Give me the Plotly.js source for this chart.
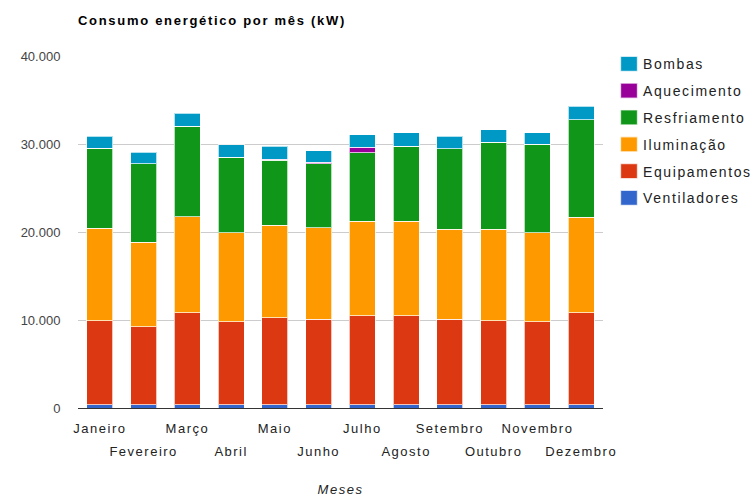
<!DOCTYPE html>
<html>
<head>
<meta charset="utf-8">
<script src="https://cdn.plot.ly/plotly-3.0.1.min.js"></script>
<style>
  html, body { margin: 0; padding: 0; background: #fff; }
  #chart { width: 752px; height: 497px; }
  #chart .xtick text, #chart .x2tick text, #chart .xtitle { letter-spacing: 1.5px; }
  #chart .legendtext { letter-spacing: 1.6px; }
  #chart .gtitle { letter-spacing: 1.7px; }
  #chart .legend .scrollbox, #chart .legend { clip-path: none !important; }
  #chart .legend .legendpoints path { transform: translate(26px, 0px) scale(1.42, 1.25); }
</style>
</head>
<body>
<div id="chart"></div>
<script>
const months = ["Janeiro", "Fevereiro", "Março", "Abril", "Maio", "Junho",
                "Julho", "Agosto", "Setembro", "Outubro", "Novembro", "Dezembro"];
const ventiladores = [350, 350, 350, 350, 350, 350, 350, 350, 350, 350, 350, 350];
const equipamentos = [9560, 8910, 10500, 9480, 9900, 9750, 10130, 10160, 9750, 9590, 9480, 10500];
const iluminacao   = [10500, 9590, 10870, 10080, 10530, 10370, 10760, 10720, 10230, 10390, 10080, 10800];
const resfriamento = [9130, 8910, 10310, 8610, 7360, 7290, 7780, 8530, 9140, 9890, 10050, 11130];
const aquecimento  = [0, 0, 0, 0, 150, 150, 630, 0, 0, 0, 0, 0];
const bombas       = [1360, 1310, 1470, 1400, 1430, 1350, 1400, 1520, 1390, 1400, 1330, 1510];

const seriesNames  = ["Ventiladores", "Equipamentos", "Iluminação", "Resfriamento", "Aquecimento", "Bombas"];
const seriesValues = [ventiladores, equipamentos, iluminacao, resfriamento, aquecimento, bombas];
const seriesColors = ["#3366cc", "#dc3912", "#ff9900", "#109618", "#990099", "#0099c6"];

const FONT = "Arial, 'Liberation Sans', sans-serif";

const traces = seriesNames.map((name, i) => ({
  type: "bar",
  name: name,
  x: months,
  y: seriesValues[i],
  legendgroup: name,
  legendrank: seriesNames.length - i,
  marker: { color: seriesColors[i], line: { color: "rgba(255,255,255,0.7)", width: 1 } },
  hoverinfo: "x+y+name"
}));

const idx = months.map((m, i) => i);
const oddVals = idx.filter(i => i % 2 === 0);
const evenVals = idx.filter(i => i % 2 === 1);

// invisible helper trace so the second (staggered) label axis is drawn
traces.push({
  type: "scatter",
  mode: "none",
  x: idx,
  y: idx.map(() => 0),
  xaxis: "x2",
  yaxis: "y",
  showlegend: false,
  hoverinfo: "skip"
});

const layout = {
  width: 752,
  height: 497,
  margin: { l: 78, r: 149, t: 56, b: 88.5 },
  paper_bgcolor: "#ffffff",
  plot_bgcolor: "#ffffff",
  separators: ",.",
  font: { family: FONT, size: 13, color: "#222222" },
  barmode: "stack",
  bargap: 0.41,
  title: {
    text: "<b>Consumo energético por mês (kW)</b>",
    font: { family: FONT, size: 13, color: "#000000" },
    x: 78 / 752, xref: "container", xanchor: "left",
    y: 1 - 20 / 497, yref: "container", yanchor: "middle"
  },
  xaxis: {
    type: "category",
    tickmode: "array",
    tickvals: oddVals.map(i => months[i]),
    ticktext: oddVals.map(i => months[i]),
    ticks: "outside",
    ticklen: 8,
    tickcolor: "rgba(0,0,0,0)",
    tickfont: { family: FONT, size: 13, color: "#222222" },
    showgrid: false,
    showline: false,
    zeroline: false,
    title: { text: "<i>Meses</i>", font: { family: FONT, size: 13, color: "#222222" }, standoff: 53 }
  },
  xaxis2: {
    type: "linear",
    overlaying: "x",
    anchor: "y",
    side: "bottom",
    range: [-0.5, 11.5],
    tickmode: "array",
    tickvals: evenVals,
    ticktext: evenVals.map(i => months[i]),
    ticks: "outside",
    ticklen: 31,
    tickcolor: "rgba(0,0,0,0)",
    tickfont: { family: FONT, size: 13, color: "#222222" },
    showgrid: false,
    showline: false,
    zeroline: false
  },
  yaxis: {
    range: [0, 40000],
    tickmode: "array",
    tickvals: [0, 10000, 20000, 30000, 40000],
    tickformat: ",.0f",
    ticks: "outside",
    ticklen: 14,
    tickcolor: "rgba(0,0,0,0)",
    tickfont: { family: FONT, size: 13, color: "#444444" },
    gridcolor: "#cccccc",
    gridwidth: 1,
    zeroline: true,
    zerolinecolor: "#333333",
    zerolinewidth: 1,
    showline: false
  },
  legend: {
    x: 1, xref: "paper", xanchor: "left", xshift: 0,
    y: 1.022, yanchor: "top",
    traceorder: "grouped",
    tracegroupgap: 5.6,
    font: { family: FONT, size: 14, color: "#222222" },
    itemclick: false,
    itemdoubleclick: false
  },
  showlegend: true
};

Plotly.newPlot("chart", traces, layout, { displayModeBar: false, staticPlot: true });
</script>
</body>
</html>
